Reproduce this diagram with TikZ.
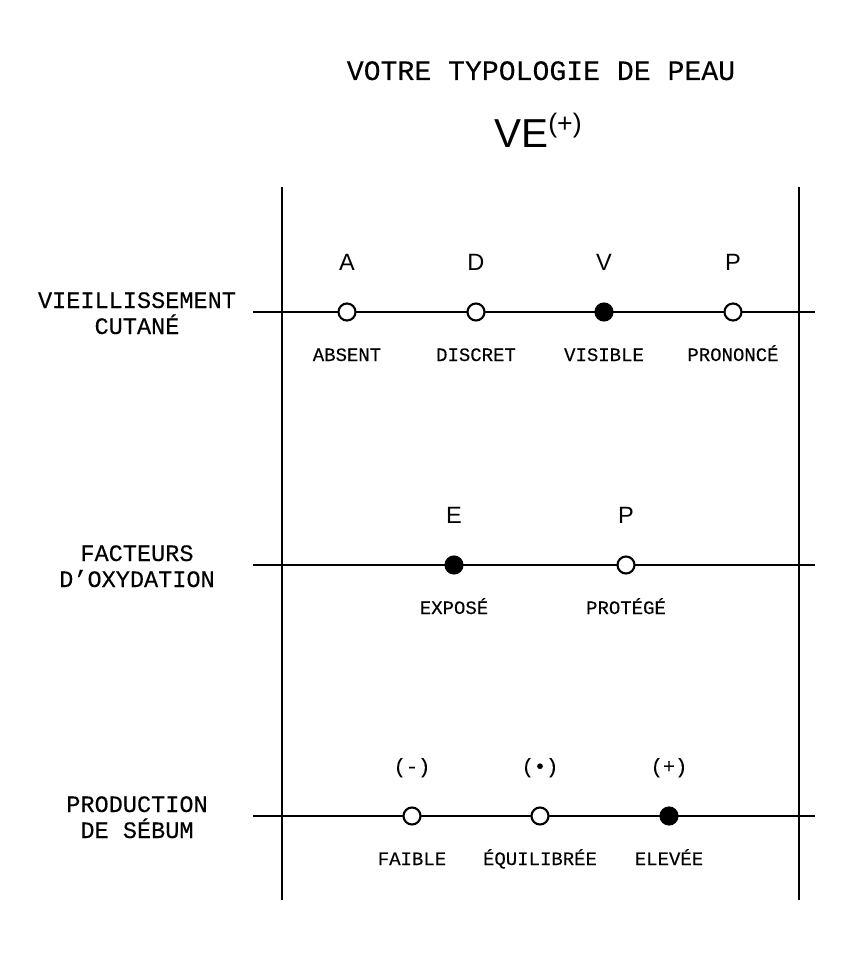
\documentclass[tikz,border=0pt]{standalone}
\usepackage{fontspec}
\setmainfont{Liberation Sans}
\setmonofont[FakeBold=0.2]{Liberation Mono}
\usetikzlibrary{calc}

\begin{document}
\begin{tikzpicture}[x=0.01cm,y=-0.01cm,
  axe/.style={line width=0.6pt},
  point/.style={circle,draw,line width=0.6pt,fill=white,minimum size=0.17cm,inner sep=0pt},
  choix/.style={point,fill=black},
  lettre/.style={anchor=base,font=\fontsize{6.7}{7}\selectfont},
  signe/.style={anchor=base,font=\ttfamily\fontsize{5.8}{7}\selectfont},
  niveau/.style={anchor=base,font=\ttfamily\fontsize{5.4}{6}\selectfont},
  critere/.style={anchor=base,font=\ttfamily\fontsize{6.7}{8}\selectfont}]
\useasboundingbox (0,0) rectangle (860,970);
\def\ya{312};
\def\yb{565};
\def\yc{816};
% titre
\node[anchor=base,font=\ttfamily\fontsize{8}{9}\selectfont] (titre) at (541,80) {VOTRE TYPOLOGIE DE PEAU};
\node[anchor=base,font=\fontsize{11.5}{12}\selectfont] (type) at (538,147) {VE\raisebox{4.2pt}{\fontsize{7.6}{8}\selectfont(+)}};
% cadre
\coordinate (G0) at (282,187);
\coordinate (G1) at (282,900);
\coordinate (D0) at (799,187);
\coordinate (D1) at (799,900);
\draw[axe] (G0)--(G1);
\draw[axe] (D0)--(D1);
\coordinate (A0) at (253,\ya);
\coordinate (A1) at (815,\ya);
\coordinate (B0) at (253,\yb);
\coordinate (B1) at (815,\yb);
\coordinate (C0) at (253,\yc);
\coordinate (C1) at (815,\yc);
\draw[axe] (A0)--(A1);
\draw[axe] (B0)--(B1);
\draw[axe] (C0)--(C1);
% vieillissement
\node[critere] (vieil) at (137,{\ya-4}) {VIEILLISSEMENT};
\node[critere] (cutane) at (137,{\ya+22}) {CUTANÉ};
\node[point] (absent) at (347,\ya) {};
\node[point] (discret) at (476,\ya) {};
\node[choix] (visible) at (604,\ya) {};
\node[point] (prononce) at (733,\ya) {};
\node[lettre] at ($(absent)+(0,-42)$) {A};
\node[lettre] at ($(discret)+(0,-42)$) {D};
\node[lettre] at ($(visible)+(0,-42)$) {V};
\node[lettre] at ($(prononce)+(0,-42)$) {P};
\node[niveau] at ($(absent)+(0,49)$) {ABSENT};
\node[niveau] at ($(discret)+(0,49)$) {DISCRET};
\node[niveau] at ($(visible)+(0,49)$) {VISIBLE};
\node[niveau] at ($(prononce)+(0,49)$) {PRONONCÉ};
% oxydation
\node[critere] (facteurs) at (137,{\yb-4}) {FACTEURS};
\node[critere] (oxydation) at (137,{\yb+22}) {D’OXYDATION};
\node[choix] (expose) at (454,\yb) {};
\node[point] (protege) at (626,\yb) {};
\node[lettre] at ($(expose)+(0,-42)$) {E};
\node[lettre] at ($(protege)+(0,-42)$) {P};
\node[niveau] at ($(expose)+(0,49)$) {EXPOSÉ};
\node[niveau] at ($(protege)+(0,49)$) {PROTÉGÉ};
% sebum
\node[critere] (production) at (137,{\yc-4}) {PRODUCTION};
\node[critere] (sebum) at (137,{\yc+22}) {DE SÉBUM};
\node[point] (faible) at (412,\yc) {};
\node[point] (equilibree) at (540,\yc) {};
\node[choix] (elevee) at (669,\yc) {};
\node[signe] at ($(faible)+(0,-43)$) {(-)};
\node[signe] at ($(equilibree)+(0,-43)$) {(•)};
\node[signe] at ($(elevee)+(0,-43)$) {(+)};
\node[niveau] at ($(faible)+(0,49)$) {FAIBLE};
\node[niveau] at ($(equilibree)+(0,49)$) {ÉQUILIBRÉE};
\node[niveau] at ($(elevee)+(0,49)$) {ELEVÉE};
\end{tikzpicture}
\end{document}
